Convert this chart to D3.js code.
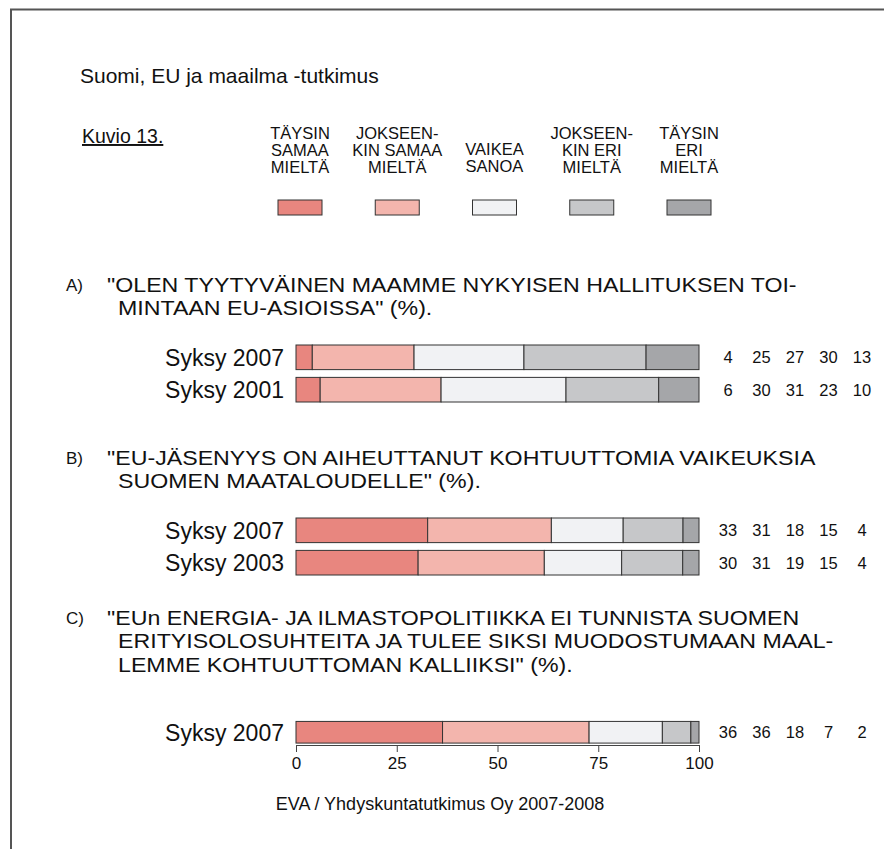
<!DOCTYPE html>
<html lang="fi">
<head>
  <meta charset="UTF-8">
  <title>Suomi, EU ja maailma -tutkimus</title>
  <script src="https://cdn.jsdelivr.net/npm/d3@7"></script>
  <style>
    body { margin: 0; background: #fff; }
    text { font-family: "Liberation Sans", Arial, sans-serif; fill: #111; }
  </style>
</head>
<body>
<script>
  // answer categories, legend order
  const categories = ["TÄYSIN SAMAA MIELTÄ", "JOKSEENKIN SAMAA MIELTÄ", "VAIKEA SANOA", "JOKSEENKIN ERI MIELTÄ", "TÄYSIN ERI MIELTÄ"];
  const legendLines = [
    ["TÄYSIN", "SAMAA", "MIELTÄ"],
    ["JOKSEEN-", "KIN SAMAA", "MIELTÄ"],
    ["VAIKEA", "SANOA"],
    ["JOKSEEN-", "KIN ERI", "MIELTÄ"],
    ["TÄYSIN", "ERI", "MIELTÄ"]
  ];
  const colors = ["#e8867f", "#f3b5ad", "#f1f2f4", "#c6c7c9", "#a5a6a9"];

  // questions
  const questionLetters = ["A)", "B)", "C)"];
  const questionText = [
    ["\"OLEN TYYTYVÄINEN MAAMME NYKYISEN HALLITUKSEN TOI-", "MINTAAN EU-ASIOISSA\" (%)."],
    ["\"EU-JÄSENYYS ON AIHEUTTANUT KOHTUUTTOMIA VAIKEUKSIA", "SUOMEN MAATALOUDELLE\" (%)."],
    ["\"EUn ENERGIA- JA ILMASTOPOLITIIKKA EI TUNNISTA SUOMEN", "ERITYISOLOSUHTEITA JA TULEE SIKSI MUODOSTUMAAN MAAL-", "LEMME KOHTUUTTOMAN KALLIIKSI\" (%)."]
  ];

  // survey rounds and values (%)
  const rowsA = ["Syksy 2007", "Syksy 2001"];
  const valuesA = [[4, 25, 27, 30, 13], [6, 30, 31, 23, 10]];
  const rowsB = ["Syksy 2007", "Syksy 2003"];
  const valuesB = [[33, 31, 18, 15, 4], [30, 31, 19, 15, 4]];
  const rowsC = ["Syksy 2007"];
  const valuesC = [[36, 36, 18, 7, 2]];

  const ticks = [0, 25, 50, 75, 100];

  const w = 884, h = 849;

  const svg = d3.select("body").append("svg")
    .attr("width", w).attr("height", h);

  // page frame (top and left edges)
  svg.append("path")
    .attr("d", `M11,${h}V9.5H${w}`)
    .attr("fill", "none")
    .attr("stroke", "#555")
    .attr("stroke-width", 2);

  svg.append("text")
    .attr("x", 80).attr("y", 83)
    .style("font-size", "21px")
    .text("Suomi, EU ja maailma -tutkimus");

  svg.append("text")
    .attr("x", 82).attr("y", 143)
    .style("font-size", "19.5px")
    .style("text-decoration", "underline")
    .text("Kuvio 13.");

  // legend
  const legendX = d3.scalePoint().domain(categories).range([300, 689]);
  const leg = svg.append("g").selectAll("g")
    .data(categories)
    .join("g")
    .attr("transform", d => `translate(${legendX(d)},0)`);

  leg.append("text")
    .attr("text-anchor", "middle")
    .style("font-size", "16.5px")
    .selectAll("tspan")
    .data((d, i) => legendLines[i].map(t => ({t, n: legendLines[i].length})))
    .join("tspan")
    .attr("x", 0)
    .attr("y", (d, j) => (d.n === 3 ? 139 : 155) + j * 17)
    .text(d => d.t);

  leg.append("rect")
    .attr("x", -22).attr("y", 200)
    .attr("width", 44).attr("height", 15)
    .attr("fill", (d, i) => colors[i])
    .attr("stroke", "#333");

  const x = d3.scaleLinear().domain([0, 1]).range([296, 699]);
  const stack = d3.stack().keys(d3.range(5)).offset(d3.stackOffsetExpand);
  const valueX = d3.scalePoint().domain(d3.range(5)).range([728, 862]);

  function block(letter, lines, textY, rows, values, barTop) {
    const g = svg.append("g");
    g.append("text")
      .attr("x", 66).attr("y", textY - 1)
      .style("font-size", "17px")
      .text(letter);
    // question lines, slightly widened so the line boxes don't collide
    g.selectAll(".q")
      .data(lines)
      .join("text")
      .attr("class", "q")
      .attr("transform", (d, i) => `translate(${i === 0 ? 107 : 118},${textY + i * 23.3}) scale(1.115,1)`)
      .style("font-size", "20.8px")
      .text(d => d);

    const y = d3.scaleBand().domain(rows).range([barTop, barTop + rows.length * 28.5]).paddingInner(0.24).paddingOuter(0);
    const series = stack(values);

    g.append("g").selectAll("g")
      .data(series)
      .join("g")
      .attr("fill", (d, i) => colors[i])
      .selectAll("rect")
      .data(d => d.map((v, j) => ({v, row: rows[j]})))
      .join("rect")
      .attr("x", d => x(d.v[0]))
      .attr("y", d => y(d.row))
      .attr("width", d => x(d.v[1]) - x(d.v[0]))
      .attr("height", y.bandwidth())
      .attr("stroke", "#333")
      .attr("stroke-width", 1);

    g.append("g").selectAll("text")
      .data(rows)
      .join("text")
      .attr("x", 284)
      .attr("y", d => y(d) + y.bandwidth() / 2)
      .attr("dy", "0.36em")
      .attr("text-anchor", "end")
      .style("font-size", "23px")
      .text(d => d);

    rows.forEach((r, j) => {
      g.append("g").selectAll("text")
        .data(values[j])
        .join("text")
        .attr("x", (d, k) => valueX(k))
        .attr("y", y(r) + y.bandwidth() / 2)
        .attr("dy", "0.36em")
        .attr("text-anchor", "middle")
        .style("font-size", "16.5px")
        .text(d => d);
    });
    return y;
  }

  block(questionLetters[0], questionText[0], 292, rowsA, valuesA, 345);
  block(questionLetters[1], questionText[1], 465, rowsB, valuesB, 518);
  block(questionLetters[2], questionText[2], 625, rowsC, valuesC, 718);

  const axis = d3.axisBottom(x)
    .tickValues(ticks.map(t => t / 100))
    .tickFormat(d => Math.round(d * 100))
    .tickSize(7)
    .tickPadding(5);

  const ax = svg.append("g")
    .attr("transform", "translate(0,745)")
    .call(axis);
  ax.select(".domain").attr("stroke", "#444").attr("d", "M296,0.5H699");
  ax.selectAll(".tick line").attr("stroke", "#444");
  ax.selectAll(".tick text")
    .style("font-family", "'Liberation Sans', Arial, sans-serif")
    .style("font-size", "17px")
    .attr("fill", "#111");

  svg.append("text")
    .attr("x", 440).attr("y", 810)
    .attr("text-anchor", "middle")
    .style("font-size", "18px")
    .text("EVA / Yhdyskuntatutkimus Oy 2007-2008");
</script>
</body>
</html>
